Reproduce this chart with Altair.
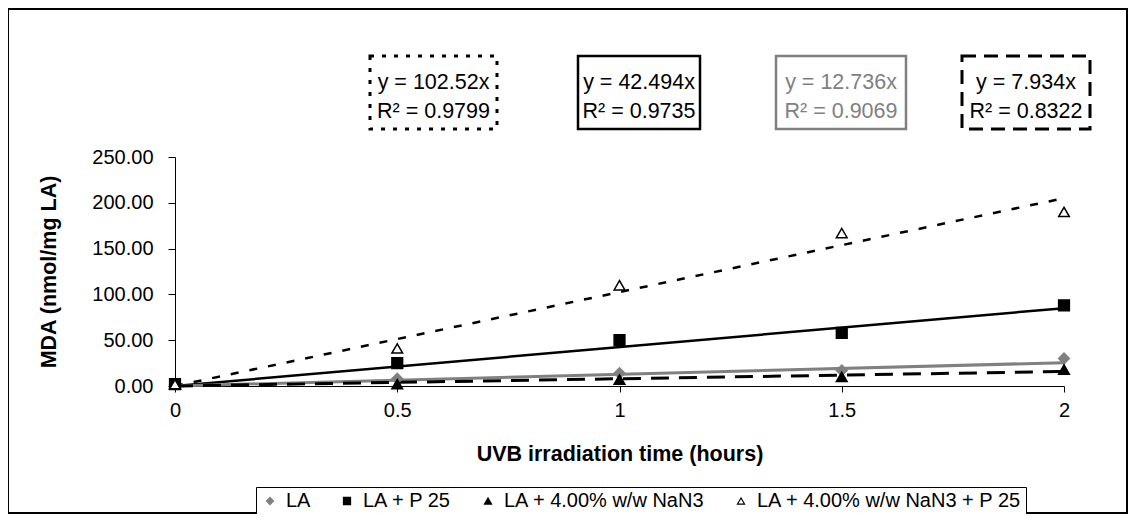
import altair as alt
import pandas as pd

# ---------------- data ----------------
time_h = [0, 0.5, 1, 1.5, 2]
series_names = ["LA", "LA + P 25", "LA + 4.00% w/w NaN3", "LA + 4.00% w/w NaN3 + P 25"]
mda_la = [2, 8, 14, 17, 30]
mda_la_p25 = [2, 25, 50, 58, 88]
mda_la_nan3 = [2, 2, 7, 10, 18]
mda_la_nan3_p25 = [2, 41, 110, 167, 190]
slopes = [12.736, 42.494, 7.934, 102.52]
r_squared = [0.9069, 0.9735, 0.8322, 0.9799]

FONT = "Liberation Sans"

values = [mda_la, mda_la_p25, mda_la_nan3, mda_la_nan3_p25]
rows = []
for name, vals in zip(series_names, values):
    for t, v in zip(time_h, vals):
        rows.append({"series": name, "time": t, "mda": v})
points_df = pd.DataFrame(rows)

trend_rows = []
for name, k in zip(series_names, slopes):
    for t in [time_h[0], time_h[-1]]:
        trend_rows.append({"series": name, "time": t, "mda": k * t})
trend_df = pd.DataFrame(trend_rows)

x_scale = alt.Scale(domain=[0, 2], nice=False, zero=False)
y_scale = alt.Scale(domain=[0, 250], nice=False)

x_axis = alt.Axis(values=time_h, format=".1~f", grid=False, title="UVB irradiation time (hours)",
                  labelFont=FONT, labelFontSize=20, labelColor="black", labelPadding=8,
                  titleFont=FONT, titleFontSize=21.5, titleFontWeight="bold", titleColor="black",
                  titlePadding=23, tickSize=6, tickColor="black", domainColor="black",
                  labelFlush=False)
y_axis = alt.Axis(values=[0, 50, 100, 150, 200, 250], format=".2f", grid=False,
                  title="MDA (nmol/mg LA)",
                  labelFont=FONT, labelFontSize=20, labelColor="black", labelPadding=15,
                  titleFont=FONT, titleFontSize=21.5, titleFontWeight="bold", titleColor="black",
                  titlePadding=31, tickSize=7, tickColor="black", domainColor="black",
                  labelFlush=False)

X = alt.X("time:Q", scale=x_scale, axis=x_axis)
Y = alt.Y("mda:Q", scale=y_scale, axis=y_axis)

# trendline styles
line_styles = {
    "LA": dict(color="#808080", strokeWidth=3),
    "LA + P 25": dict(color="black", strokeWidth=2.5),
    "LA + 4.00% w/w NaN3": dict(color="black", strokeWidth=3, strokeDash=[18, 10]),
    "LA + 4.00% w/w NaN3 + P 25": dict(color="black", strokeWidth=2.5, strokeDash=[8, 11]),
}

layers = []
for name in ["LA + 4.00% w/w NaN3 + P 25", "LA + P 25", "LA", "LA + 4.00% w/w NaN3"]:
    layers.append(
        alt.Chart(trend_df).transform_filter(alt.datum.series == name)
        .mark_line(**line_styles[name]).encode(x=X, y=Y)
    )

leg = alt.Legend(orient="none", legendX=81, legendY=330, direction="horizontal", columns=4,
                 title=None, strokeColor="black", fillColor="white", padding=4,
                 labelFont=FONT, labelFontSize=20, labelColor="black", labelOffset=6,
                 labelLimit=0, symbolSize=50, symbolStrokeWidth=1.2, columnPadding=26)

shape_scale = alt.Scale(domain=series_names, range=["diamond", "square", "triangle-up", "triangle-up"])
fill_scale = alt.Scale(domain=series_names, range=["#808080", "#000000", "#000000", "#ffffff"])
stroke_scale = alt.Scale(domain=series_names, range=["#808080", "#000000", "#000000", "#000000"])

pts = alt.Chart(points_df).mark_point(size=115, strokeWidth=1.5, opacity=1).encode(
    x=X,
    y=Y,
    shape=alt.Shape("series:N", scale=shape_scale, legend=leg, sort=series_names),
    fill=alt.Fill("series:N", scale=fill_scale, legend=leg, sort=series_names),
    stroke=alt.Stroke("series:N", scale=stroke_scale, legend=leg, sort=series_names),
)
layers.append(pts)

# ---------------- annotation boxes (pixel layout relative to plot origin) ----------------
one = pd.DataFrame({"k": [0]})
OX, OY = 175, 157
box_layout = [
    # slope index, left, right, top, bottom, line1 y, line2 y, colour, dash
    (3, 370, 497, 56, 129, 83, 112, "black", [4, 8]),
    (1, 578, 700, 56, 129, 83, 112, "black", None),
    (0, 776, 906, 56, 129, 83, 112, "#808080", None),
    (2, 962, 1090, 56, 129, 83, 112, "black", [14, 8]),
]
for idx, l, r, t, b, y1, y2, col, dash in box_layout:
    rect_kw = dict(fill="white", stroke=col, strokeWidth=3 if dash else 2.5)
    if dash:
        rect_kw["strokeDash"] = dash
    layers.append(alt.Chart(one).mark_rect(**rect_kw).encode(
        x=alt.value(l - OX), x2=alt.value(r - OX), y=alt.value(t - OY), y2=alt.value(b - OY)))
    cx = (l + r) / 2 - OX
    line1 = f"y = {slopes[idx]}x"
    line2 = f"R\u00b2 = {r_squared[idx]:.4f}"
    for txt, yy in [(line1, y1), (line2, y2)]:
        layers.append(alt.Chart(one).mark_text(font=FONT, fontSize=21.5, color=col, align="center",
                                               baseline="middle").encode(
            x=alt.value(cx), y=alt.value(yy - OY), text=alt.value(txt)))

# outer chart border
layers.append(alt.Chart(one).mark_rect(fill=None, stroke="black", strokeWidth=2).encode(
    x=alt.value(8 - OX), x2=alt.value(1127 - OX), y=alt.value(9 - OY), y2=alt.value(513 - OY)))

chart = alt.layer(*layers).properties(
    width=889, height=229,
    autosize=alt.AutoSizeParams(type="none"),
    padding={"left": 167, "top": 149, "right": 64, "bottom": 128},
    background="white",
).configure_view(stroke=None)

chart.save("out.html", embed_options={"renderer": "svg", "actions": False})
